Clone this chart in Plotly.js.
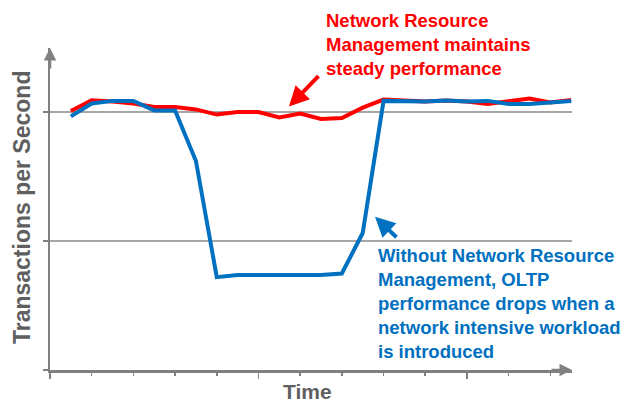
<!DOCTYPE html>
<html>
<head>
<meta charset="utf-8">
<script src="https://cdn.plot.ly/plotly-3.0.1.min.js"></script>
<style>
  body { margin: 0; background: #fff; }
  #chart { width: 629px; height: 404px; }
</style>
</head>
<body>
<div id="chart"></div>
<script>
// Time steps (samples) and transactions per second
var timeSteps = [1, 2, 3, 4, 5, 6, 7, 8, 9, 10, 11, 12, 13, 14, 15, 16, 17, 18, 19, 20, 21, 22, 23, 24, 25]
var withNrm = [100.4, 104.5, 104.1, 103.3, 101.9, 101.9, 101.0, 99.0, 100.0, 100.0, 97.9, 99.4, 97.3,
               97.7, 101.7, 104.8, 104.5, 104.1, 104.5, 104.1, 103.1, 104.3, 105.2, 103.7, 104.7]
var withoutNrm = [98.3, 103.3, 104.3, 104.3, 100.6, 100.6, 81.0, 36.0, 36.8, 36.8, 36.8, 36.8, 36.8,
                  37.4, 53.1, 104.3, 104.3, 104.1, 104.5, 104.1, 104.3, 103.1, 103.1, 103.7, 104.3]

var xMinorTicks = [0, 2, 4, 6, 8, 12, 14, 16, 18, 22, 24]
var xMajorTicks = [0, 10, 20]
var yTicks = [0, 50, 100]

var axisGray = '#808080'
var titleGray = '#5f5f5f'
var fontFam = '"Liberation Sans", Arial, sans-serif'

var traceRed = {
  x: timeSteps,
  y: withNrm,
  mode: 'lines',
  line: { color: '#ff0000', width: 4 },
  cliponaxis: false
}

var traceBlue = {
  x: timeSteps,
  y: withoutNrm,
  mode: 'lines',
  line: { color: '#0070c0', width: 4 },
  cliponaxis: false
}

var layout = {
  width: 629,
  height: 404,
  margin: { l: 50, r: 57, t: 48, b: 34 },
  paper_bgcolor: '#ffffff',
  plot_bgcolor: '#ffffff',
  showlegend: false,
  hovermode: false,
  font: { family: fontFam },
  xaxis: {
    range: [0, 25.04],
    showline: true, linecolor: axisGray, linewidth: 2.5,
    showgrid: false, zeroline: false,
    tickmode: 'array', tickvals: xMajorTicks, showticklabels: false,
    ticks: 'outside', ticklen: 6, tickwidth: 1.5, tickcolor: axisGray,
    minor: { tickmode: 'array', tickvals: xMinorTicks, ticks: 'outside', ticklen: 3, tickwidth: 1.5, tickcolor: axisGray, showgrid: false }
  },
  yaxis: {
    range: [0, 124.8],
    showline: true, linecolor: axisGray, linewidth: 2.5,
    showgrid: true, gridcolor: '#a6a6a6', gridwidth: 1.5, zeroline: false,
    tickmode: 'array', tickvals: yTicks, showticklabels: false,
    ticks: 'outside', ticklen: 5, tickwidth: 1.5, tickcolor: axisGray
  },
  annotations: [
    // axis arrow heads
    { xref: 'paper', yref: 'paper', x: 0, y: 1, ax: 0, ay: 22, text: '', showarrow: true,
      arrowhead: 2, arrowsize: 1, arrowwidth: 2.5, arrowcolor: axisGray, standoff: 0, startstandoff: 0 },
    { xref: 'paper', yref: 'paper', x: 1, y: 0, ax: -22, ay: 0, text: '', showarrow: true,
      arrowhead: 2, arrowsize: 1, arrowwidth: 2.5, arrowcolor: axisGray, standoff: 0, startstandoff: 0 },
    // axis titles
    { xref: 'paper', yref: 'paper', x: -0.0536, y: 0.506, textangle: -90, showarrow: false,
      xanchor: 'center', yanchor: 'middle', text: 'Transactions per Second',
      font: { size: 23, color: titleGray, family: fontFam, weight: 'bold' } },
    { xref: 'paper', yref: 'paper', x: 0.494, y: -0.0683, showarrow: false,
      xanchor: 'center', yanchor: 'middle', text: 'Time',
      font: { size: 21, color: titleGray, family: fontFam, weight: 'bold' } },
    // callouts
    { xref: 'x', yref: 'y', x: 11.46, y: 102.1, ax: 31, ay: -32, text: '', showarrow: true,
      arrowhead: 2, arrowsize: 1, arrowwidth: 4, arrowcolor: '#ff0000', standoff: 0, startstandoff: 0 },
    { xref: 'paper', yref: 'paper', x: 0.5249, y: 1.0124, showarrow: false,
      xanchor: 'left', yanchor: 'middle', align: 'left',
      text: 'Network Resource<br>Management maintains<br>steady performance',
      font: { size: 18.5, color: '#ff0000', family: fontFam, weight: 'bold' } },
    { xref: 'x', yref: 'y', x: 15.59, y: 59.4, ax: 23, ay: 22, text: '', showarrow: true,
      arrowhead: 2, arrowsize: 1, arrowwidth: 4, arrowcolor: '#0070c0', standoff: 0, startstandoff: 0 },
    { xref: 'paper', yref: 'paper', x: 0.6245, y: 0.2071, showarrow: false,
      xanchor: 'left', yanchor: 'middle', align: 'left',
      text: 'Without Network Resource<br>Management, OLTP<br>performance drops when a<br>network intensive workload<br>is introduced',
      font: { size: 18.5, color: '#0070c0', family: fontFam, weight: 'bold' } }
  ]
}

Plotly.newPlot('chart', [traceRed, traceBlue], layout, { staticPlot: true, displayModeBar: false })
</script>
</body>
</html>
